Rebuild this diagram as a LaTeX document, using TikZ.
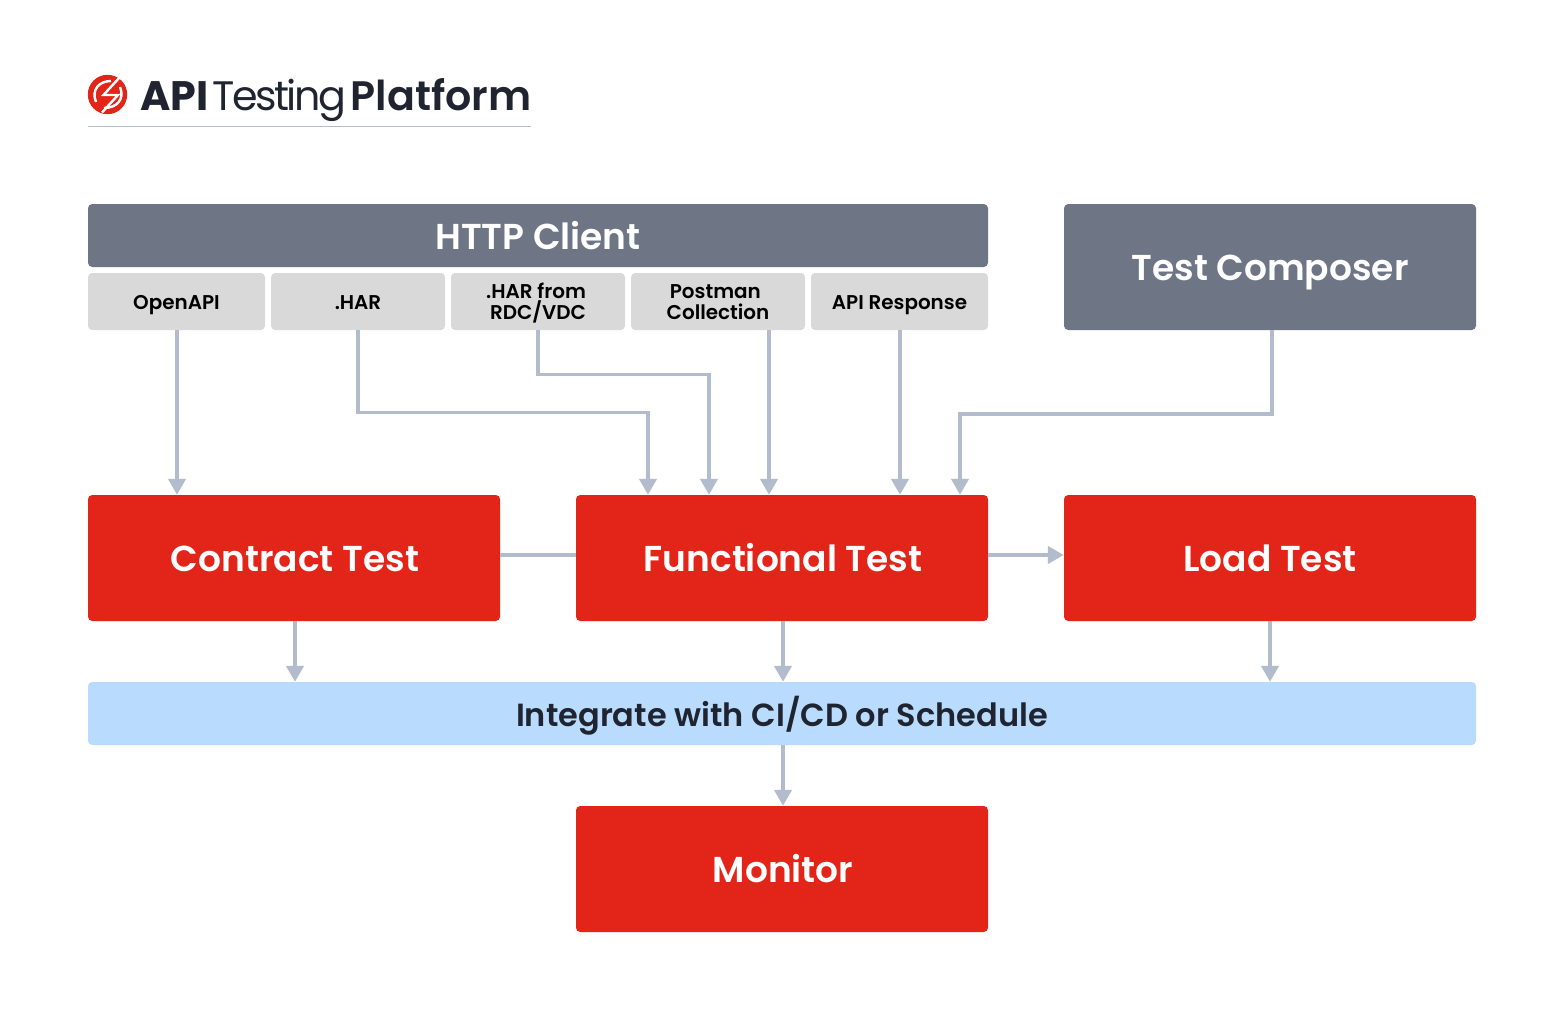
\documentclass[tikz,border=0pt]{standalone}
\usepackage{fontspec}
\setmainfont{Poppins}
\newfontfamily\popr[LetterSpace=-6]{Poppins}
\newfontfamily\pops{Poppins SemiBold}
\usetikzlibrary{arrows.meta,calc}
\definecolor{redb}{HTML}{E32419}
\definecolor{slateb}{HTML}{6E7585}
\definecolor{greyb}{HTML}{D9D9D9}
\definecolor{blueb}{HTML}{B9DBFD}
\definecolor{linec}{HTML}{B3BCCC}
\definecolor{ink}{HTML}{1F2430}
\newcommand{\px}{0.0264583cm}
\newcommand{\nudge}{\hspace*{1.5pt}}
\tikzset{
 x=\px,y=-\px,
 boxbase/.style={rounded corners=3.2pt,inner sep=0,text=white,align=center},
 bigtext/.style={font={\fontsize{27.1}{30}\selectfont\pops},text height=22pt,text depth=1.75pt},
 redbox/.style={boxbase,fill=redb,bigtext},
 slatebox/.style={boxbase,fill=slateb,bigtext},
 greybox/.style={boxbase,fill=greyb,text=black,font={\fontsize{15}{15.8}\selectfont\pops}},
 greyone/.style={greybox,text height=13.5pt,text depth=1.25pt},
 conn/.style={draw=linec,line width=2.6pt,-{Triangle[length=12pt,width=13pt]}},
 plain/.style={draw=linec,line width=2.6pt},
}
\newcommand{\bx}[6]{\node[#1,minimum width=#4*\px,minimum height=#5*\px] (#2) at (#3) {#6};}
\begin{document}
\begin{tikzpicture}
\useasboundingbox (0,0) rectangle (1564,1029);
\fill[white] (0,0) rectangle (1564,1029);
\bx{slatebox,text height=23.5pt}{http}{538,235.5}{900}{63}{HTTP Client}
\bx{slatebox}{composer}{1270,267}{412}{126}{Test Composer}
\bx{greyone}{openapi}{176.5,301.5}{177}{57}{OpenAPI}
\bx{greyone}{har}{358,301.5}{174}{57}{.HAR}
\bx{greybox}{rdc}{538,301.5}{174}{57}{\rule{0pt}{16pt}.HAR from\hspace*{3pt}\\RDC/VDC\rule[-4.5pt]{0pt}{4.5pt}}
\bx{greybox}{postman}{718,301.5}{174}{57}{\rule{0pt}{16pt}Postman\hspace*{4pt}\\Collection\rule[-4.5pt]{0pt}{4.5pt}}
\bx{greyone}{apiresp}{899.5,301.5}{177}{57}{API Response}
\bx{redbox}{contract}{294,558}{412}{126}{\nudge Contract Test}
\bx{redbox}{functional}{782,558}{412}{126}{\nudge Functional Test}
\bx{redbox}{load}{1270,558}{412}{126}{Load Test}
\node[boxbase,fill=blueb,text=ink,minimum width=1388*\px,minimum height=63*\px,font={\fontsize{24.1}{28}\selectfont\pops},text height=21pt,text depth=2pt] (ci) at (782,713.5) {Integrate with CI/CD or Schedule};
\bx{redbox}{monitor}{782,869}{412}{126}{\nudge Monitor}
% connectors
\draw[conn] (openapi.south -| 177,0) -- (contract.north -| 177,0);
\draw[conn] (har.south) |- (648,412.5) -- (functional.north -| 648,0);
\draw[conn] (rdc.south) |- (709,374.5) -- (functional.north -| 709,0);
\draw[conn] (postman.south -| 769,0) -- (functional.north -| 769,0);
\draw[conn] (apiresp.south -| 900,0) -- (functional.north -| 900,0);
\draw[conn] (composer.south -| 1272,0) |- (960,414) -- (functional.north -| 960,0);
\draw[plain] (contract.east |- 0,555) -- (functional.west |- 0,555);
\draw[conn] (functional.east |- 0,555) -- (load.west |- 0,555);
\draw[conn] (contract.south -| 295,0) -- (ci.north -| 295,0);
\draw[conn] (functional.south -| 783,0) -- (ci.north -| 783,0);
\draw[conn] (load.south) -- (ci.north -| load.south);
\draw[conn] (ci.south -| 783,0) -- (monitor.north -| 783,0);
% title
\coordinate (ruleL) at (88,126.5);
\coordinate (ruleR) at (531,126.5);
\draw[draw=linec,line width=0.9pt] (ruleL) -- (ruleR);
\fill[redb] (107.5,94.5) circle (19.7);
\begin{scope}[draw=white,line width=1.8pt,line join=miter]
\draw (96,102) .. controls (91,90) and (99,81) .. (111,81);
\draw (120,87) .. controls (125,99) and (117,108) .. (104,108);
\draw (120,77) -- (103.5,95) -- (118,95) -- (102,112.5);
\end{scope}
\node[anchor=base west,inner sep=0,text=ink,font={\fontsize{31}{34}\selectfont\bfseries}] (t1) at (140,110.5) {API};
\node[anchor=base west,inner sep=0,text=ink,font={\fontsize{31}{34}\selectfont\popr}] (t2) at (212,110.5) {Testing};
\node[anchor=base west,inner sep=0,text=ink,font={\fontsize{31}{34}\selectfont\pops}] (t3) at (350.5,110.5) {Platform};
\end{tikzpicture}
\end{document}
